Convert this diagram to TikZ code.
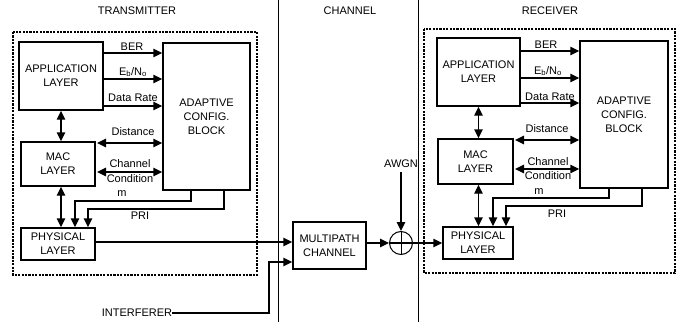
\documentclass[tikz,border=0pt]{standalone}
\usepackage{fontspec}
\setmainfont{Liberation Sans}
\usepackage{tikz}
\usetikzlibrary{
  arrows.meta, positioning, shapes.geometric, calc
}

\begin{document}
\begin{tikzpicture}[x=1pt, y=-1pt,
    font=\fontsize{11}{14}\selectfont,
    layerbox/.style={draw, line width=1.4pt, align=center, inner sep=0pt},
    sig/.style={line width=1.4pt, -{Triangle[length=9pt,width=8.5pt]}},
    dsig/.style={line width=1.4pt, {Triangle[length=9pt,width=8.5pt]}-{Triangle[length=9pt,width=8.5pt]}},
    frame/.style={line width=2.4pt, dash pattern=on 2.2pt off 1.2pt},
    lbl/.style={inner sep=0pt}
  ]
  \useasboundingbox (0,0) rectangle (694,324);

  % section titles and separators
  \node[lbl] (ttx) at (137,11) {TRANSMITTER};
  \node[lbl] (tch) at (350,11) {CHANNEL};
  \node[lbl] (trx) at (550,11) {RECEIVER};
  \draw[line width=0.9pt] (278,0) -- (278,322);
  \draw[line width=0.9pt] (418,0) -- (418,322);

  % transmitter
  \draw[frame] (13,32) rectangle (257,275);
  \node[layerbox, minimum width=84pt, minimum height=68pt] (tapp) at (61,76) {APPLICATION\\LAYER};
  \node[layerbox, minimum width=87pt, minimum height=147pt] (tacb) at (206.5,116.5) {ADAPTIVE\\CONFIG.\\BLOCK};
  \node[layerbox, minimum width=74pt, minimum height=44pt] (tmac) at (58,164) {MAC\\LAYER};
  \node[layerbox, minimum width=74pt, minimum height=32pt] (tphy) at (58,244) {PHYSICAL\\LAYER};

  \draw[sig] (tapp.east |- 0,53) -- (tacb.west |- 0,53);
  \draw[sig] (tapp.east |- 0,79) -- (tacb.west |- 0,79);
  \draw[sig] (tapp.east |- 0,106) -- (tacb.west |- 0,106);
  \draw[dsig] (97,0 |- 0,143) -- (tacb.west |- 0,143);
  \draw[dsig] (97,0 |- 0,172) -- (tacb.west |- 0,172);
  \draw[dsig] (tapp.south) -- (tapp.south |- tmac.north);
  \draw[dsig] (tmac.south -| tapp.south) -- (tphy.north -| tapp.south);
  \draw[sig] (tacb.south -| 191,0) |- (75,201) -- (75,0 |- tphy.north);
  \draw[sig] (tacb.south -| 224,0) |- (88,209) -- (88,0 |- tphy.north);

  \node[lbl] (tber) at (132,47) {BER};
  \node[lbl] (tebn) at (133,72) {E\textsubscript{b}/N\textsubscript{o}};
  \node[lbl] (trate) at (133,98) {Data Rate};
  \node[lbl] (tdist) at (133,132) {Distance};
  \node[lbl] (tcc1) at (130,164) {Channel};
  \node[lbl] (tcc2) at (130,179) {Condition};
  \node[lbl] (tcc3) at (122,194) {m};
  \node[lbl] (tpri) at (140,216) {PRI};

  % channel
  \node[layerbox, minimum width=73pt, minimum height=47pt] (mpc) at (329.5,245.5) {MULTIPATH\\CHANNEL};
  \node[draw, circle, line width=1pt, minimum size=23pt, inner sep=0pt] (sum) at (401,243) {};
  \draw[line width=1pt] (sum.north) -- (sum.south);
  \node[lbl] (awgn) at (401,164) {AWGN};
  \coordinate (awgnin) at (401,172);
  \node[lbl] (intf) at (137,313) {INTERFERER};

  \draw[sig] (tphy.east |- 0,242) -- (mpc.west |- 0,242);
  \draw[sig] (intf.east) -- (269,313) |- (mpc.west |- 0,262);
  \draw[sig] (awgnin) -- (sum.north);
  \draw[sig] (mpc.east |- sum) -- (sum.west);

  % receiver
  \draw[frame] (424,29) rectangle (675,273);
  \node[layerbox, minimum width=83pt, minimum height=68pt] (rapp) at (478.5,72) {APPLICATION\\LAYER};
  \node[layerbox, minimum width=88pt, minimum height=147pt] (racb) at (624,114.5) {ADAPTIVE\\CONFIG.\\BLOCK};
  \node[layerbox, minimum width=75pt, minimum height=45pt] (rmac) at (475.5,161.5) {MAC\\LAYER};
  \node[layerbox, minimum width=70pt, minimum height=32pt] (rphy) at (478,243) {PHYSICAL\\LAYER};

  \draw[sig] (sum.west) -- (rphy.west);
  \draw[sig] (rapp.east |- 0,51) -- (racb.west |- 0,51);
  \draw[sig] (rapp.east |- 0,78) -- (racb.west |- 0,78);
  \draw[sig] (rapp.east |- 0,103) -- (racb.west |- 0,103);
  \draw[dsig] (515,0 |- 0,140) -- (racb.west |- 0,140);
  \draw[dsig] (515,0 |- 0,169) -- (racb.west |- 0,169);
  \draw[dsig] (rapp.south) -- (rapp.south |- rmac.north);
  \draw[dsig] (rmac.south -| rapp.south) -- (rphy.north -| rapp.south);
  \draw[sig] (racb.south -| 609,0) |- (493,198) -- (493,0 |- rphy.north);
  \draw[sig] (racb.south -| 642,0) |- (506,206) -- (506,0 |- rphy.north);

  \node[lbl] (rber) at (546,45) {BER};
  \node[lbl] (rebn) at (548,71) {E\textsubscript{b}/N\textsubscript{o}};
  \node[lbl] (rrate) at (550,97) {Data Rate};
  \node[lbl] (rdist) at (547,129) {Distance};
  \node[lbl] (rcc1) at (548,162) {Channel};
  \node[lbl] (rcc2) at (548,176) {Condition};
  \node[lbl] (rcc3) at (539,192) {m};
  \node[lbl] (rpri) at (557,214) {PRI};
\end{tikzpicture}
\end{document}
